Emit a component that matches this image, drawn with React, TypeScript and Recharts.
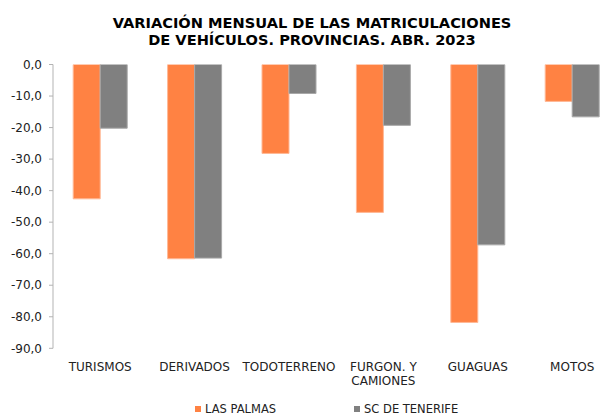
import React from "react";
import { BarChart, Bar, XAxis, YAxis, Legend } from "recharts";

const categories = ["TURISMOS", "DERIVADOS", "TODOTERRENO", "FURGON. Y\nCAMIONES", "GUAGUAS", "MOTOS"];
const lasPalmas = [-42.6, -61.6, -28.2, -46.9, -81.8, -11.7];
const scTenerife = [-20.2, -61.4, -9.2, -19.3, -57.2, -16.6];
const yTicks = [0, -10, -20, -30, -40, -50, -60, -70, -80, -90];
const seriesNames = ["LAS PALMAS", "SC DE TENERIFE"];
const titleLines = ["VARIACIÓN MENSUAL DE LAS MATRICULACIONES", "DE VEHÍCULOS. PROVINCIAS. ABR. 2023"];

const data = categories.map((c, i) => ({ cat: c, lp: lasPalmas[i], sc: scTenerife[i] }));

const FONT = "'DejaVu Sans', Verdana, sans-serif";
const ORANGE = "#FF8243";
const GRAY = "#808080";

const fmt = (v: number) => v.toFixed(1).replace(".", ",");

const CatTick = (props: any) => {
  const { x, y, payload } = props;
  const lines = String(payload.value).split("\n");
  return (
    <text x={x} y={y} textAnchor="middle" fontFamily={FONT} fontSize={12} fill="#222">
      {lines.map((l: string, i: number) => (
        <tspan key={i} x={x} y={y + 21 + i * 14}>
          {l}
        </tspan>
      ))}
    </text>
  );
};

const LegendContent = (props: any) => {
  const { payload } = props;
  return (
    <div
      style={{
        height: 15,
        display: "flex",
        alignItems: "center",
        paddingLeft: 195,
        fontFamily: FONT,
        fontSize: 11.5,
        color: "#222",
        lineHeight: "15px",
      }}
    >
      {(payload || []).map((p: any, i: number) => (
        <div key={i} style={{ display: "flex", alignItems: "center", marginRight: 78 }}>
          <span style={{ display: "inline-block", width: 6, height: 6, background: p.color, marginRight: 4 }} />
          <span>{p.value}</span>
        </div>
      ))}
    </div>
  );
};

export default function App() {
  return (
    <div
      style={{
        position: "fixed",
        left: 0,
        top: 0,
        width: 605,
        height: 415,
        overflow: "hidden",
        background: "#fff",
      }}
    >
      <div
        style={{
          position: "absolute",
          left: 0,
          top: 13.5,
          width: 624,
          textAlign: "center",
          fontFamily: FONT,
          fontWeight: "bold",
          fontSize: 14.6,
          lineHeight: "17.4px",
          color: "#000",
          zIndex: 2,
          whiteSpace: "nowrap",
        }}
      >
        {titleLines.map((t, i) => (
          <div key={i}>{t}</div>
        ))}
      </div>
      <BarChart
        width={625}
        height={415}
        data={data}
        margin={{ top: 64.5, right: 5.6, left: 0, bottom: 0 }}
        barCategoryGap="21.4%"
        barGap={0}
      >
        <XAxis
          xAxisId="cat"
          dataKey="cat"
          axisLine={false}
          tickLine={false}
          tickSize={0}
          height={51.7}
          interval={0}
          tick={<CatTick />}
        />
        <XAxis
          xAxisId="top"
          type="number"
          orientation="top"
          domain={[0, 6]}
          ticks={[1, 2, 3, 4, 5]}
          allowDataOverflow
          height={0}
          mirror
          tick={false}
          tickSize={4}
          axisLine={{ stroke: "#898989", strokeWidth: 1.5 }}
          tickLine={{ stroke: "#898989" }}
        />
        <YAxis
          domain={[-90, 0]}
          ticks={yTicks}
          tickFormatter={fmt}
          width={53}
          tickSize={4}
          tickMargin={7}
          interval={0}
          axisLine={{ stroke: "#B3B3B3" }}
          tickLine={{ stroke: "#B3B3B3" }}
          tick={{ fontFamily: FONT, fontSize: 12, fill: "#222" }}
          allowDataOverflow
        />
        <Legend
          verticalAlign="bottom"
          content={<LegendContent />}
          wrapperStyle={{ top: 401.5, left: 0, width: 625, height: 15 }}
        />
        <Bar
          xAxisId="cat"
          dataKey="lp"
          name={seriesNames[0]}
          fill={ORANGE}
          stroke="#FFB896"
          strokeWidth={1}
          isAnimationActive={false}
        />
        <Bar
          xAxisId="cat"
          dataKey="sc"
          name={seriesNames[1]}
          fill={GRAY}
          stroke="#A8A8A8"
          strokeWidth={1}
          isAnimationActive={false}
        />
      </BarChart>
    </div>
  );
}
